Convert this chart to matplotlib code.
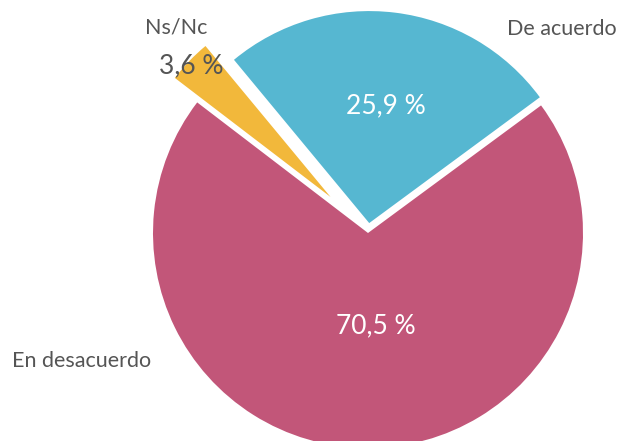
import matplotlib
matplotlib.use("Agg")
import matplotlib.pyplot as plt

# survey answers, shares in percent
categories = ["De acuerdo", "Ns/Nc", "En desacuerdo"]
shares = [25.9, 3.6, 70.5]

COLORS = ["#56B7D1", "#F2B83B", "#C25679"]
GREY = "#555555"
W, H = 619, 441

plt.rcParams["font.family"] = ["Lato", "DejaVu Sans"]

fig = plt.figure(figsize=(W / 100, H / 100), dpi=100)
ax = fig.add_axes([0, 0, 1, 1])

# pie drawn in pixel units so explode offsets are in px
wedges, _, pct = ax.pie(
    shares, colors=COLORS, startangle=36.4, counterclock=True,
    center=(368, H - 233), radius=215, explode=[10, 52, 0],
    autopct=lambda v: f"{v:.1f} %".replace(".", ","),
    textprops={"fontsize": 19, "color": "white"},
    wedgeprops={"linewidth": 0},
)
wedges[0].set_radius(212)
wedges[1].set_radius(196)

# pie() resets the limits, so set the pixel frame afterwards
ax.set_xlim(0, W)
ax.set_ylim(0, H)
ax.set_aspect("equal")
ax.axis("off")

# percentage labels
pct_pos = [(386, H - 106), (191, H - 66), (376, H - 326)]
for t, (x, y) in zip(pct, pct_pos):
    t.set_position((x, y))
    t.set_ha("center"); t.set_va("center")
pct[1].set_color(GREY)

# category labels
label_pos = [(562, H - 29), (176, H - 28), (82, H - 361)]
for name, (x, y) in zip(categories, label_pos):
    ax.text(x, y, name, ha="center", va="center", fontsize=15.5, color=GREY)

fig.savefig("out.png", dpi=100)
